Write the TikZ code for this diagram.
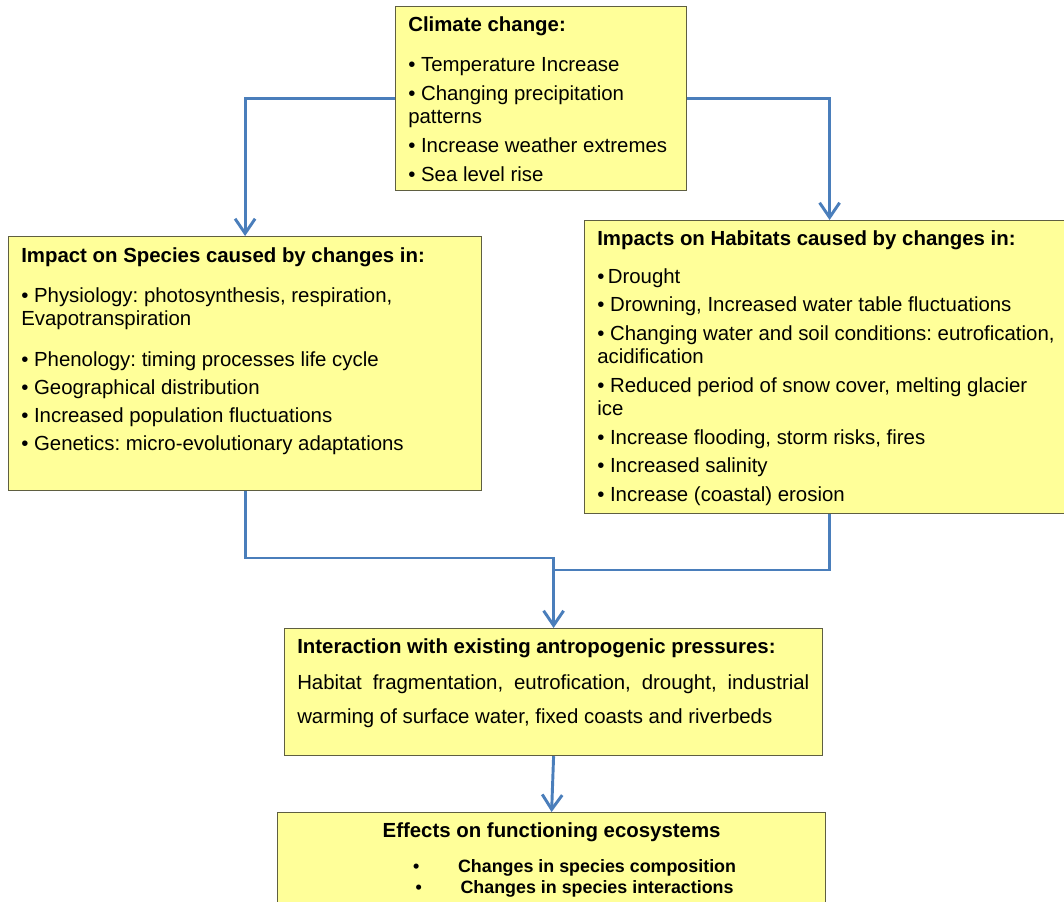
\documentclass[tikz,border=0pt]{standalone}
\usepackage{fontspec}
\setmainfont{Liberation Sans}
\usetikzlibrary{arrows.meta,positioning}
\frenchspacing

\definecolor{boxfill}{RGB}{255,255,153}
\definecolor{boxline}{RGB}{95,95,65}
\definecolor{flowblue}{RGB}{74,126,187}

\tikzset{
  box/.style={draw=boxline, fill=boxfill, line width=0.9pt, anchor=north west, inner sep=0pt},
  boxtext/.style={anchor=north west, inner sep=0pt, align=left, font=\fontsize{15.3}{17.6}\selectfont},
  flow/.style={draw=flowblue, line width=2.2pt},
  flowarrow/.style={flow, -{Straight Barb[length=11pt,width=15pt]}},
}

\begin{document}
\begin{tikzpicture}[x=0.75pt,y=-0.75pt]
  \useasboundingbox (0,0) rectangle (1064,901);
  \clip (0,0) rectangle (1064,901);

  % boxes
  \node[box, minimum width=218.25pt, minimum height=138pt] (climate) at (395,6) {};
  \node[box, minimum width=354.75pt, minimum height=190.5pt] (species) at (8,236) {};
  \node[box, minimum width=367.5pt, minimum height=219.75pt] (habitats) at (584,220) {};
  \node[box, minimum width=403.5pt, minimum height=95.25pt] (interaction) at (284,628) {};
  \node[box, minimum width=411pt, minimum height=75pt] (effects) at (277,812) {};

  % texts
  \node[boxtext] (climatetext) at ([shift={(13,10)}]climate.north west)
    {\textbf{Climate change:}\\[13.1pt]
     • Temperature Increase\\[3.8pt]
     • Changing precipitation\\patterns\\[3.8pt]
     • Increase weather extremes\\[3.8pt]
     • Sea level rise};

  \node[boxtext] (speciestext) at ([shift={(13,11)}]species.north west)
    {\textbf{Impact on Species caused by changes in:}\\[12.4pt]
     • Physiology: photosynthesis, respiration,\\Evapotranspiration\\[13.1pt]
     • Phenology: timing processes life cycle\\[3.4pt]
     • Geographical distribution\\[3.4pt]
     • Increased population fluctuations\\[3.4pt]
     • Genetics: micro-evolutionary adaptations};

  \node[boxtext] (habitatstext) at ([shift={(13,10)}]habitats.north west)
    {\textbf{Impacts on Habitats caused by changes in:}\\[10.9pt]
     •\,Drought\\[3.8pt]
     • Drowning, Increased water table fluctuations\\[3.8pt]
     • Changing water and soil conditions: eutrofication,\\acidification\\[3.8pt]
     • Reduced period of snow cover, melting glacier\\ice\\[3.8pt]
     • Increase flooding, storm risks, fires\\[3.8pt]
     • Increased salinity\\[3.8pt]
     • Increase (coastal) erosion};

  \node[boxtext] (interactiontext) at ([shift={(13,10)}]interaction.north west)
    {\textbf{Interaction with existing antropogenic pressures:}\\[10pt]
     \makebox[384pt][s]{Habitat fragmentation, eutrofication, drought, industrial}\\[7.9pt]
     warming of surface water, fixed coasts and riverbeds};

  \node[boxtext, anchor=north, align=center] (effectstitle) at ([shift={(0,10)}]effects.north)
    {\textbf{Effects on functioning ecosystems}};
  \node[anchor=north, inner sep=0pt, align=center, font=\fontsize{13.4}{15.8}\selectfont\bfseries]
    (effectslist) at ([shift={(23,47)}]effects.north)
    {•\hspace{29pt}Changes in species composition\\
     •\hspace{29pt}Changes in species interactions};

  % connectors
  \coordinate (bendL) at (interaction.north |- 0,558);
  \coordinate (bendR) at (interaction.north |- 0,570);
  \draw[flowarrow] (climate.west) -| (species.north);
  \draw[flowarrow] (climate.east) -| (habitats.north);
  \draw[flowarrow] (species.south) |- (bendL) -- (interaction.north);
  \draw[flow] (habitats.south) |- (bendR);
  \draw[flowarrow] (interaction.south) -- (effects.north);
\end{tikzpicture}
\end{document}
